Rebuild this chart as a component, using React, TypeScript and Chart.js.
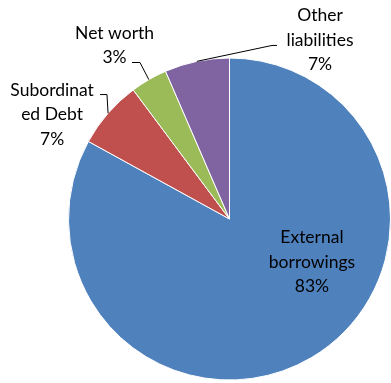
import React, { useEffect, useRef } from 'react';
import { Chart, registerables } from 'chart.js';

Chart.register(...registerables);

const categories = ['External borrowings', 'Subordinated Debt', 'Net worth', 'Other liabilities'];
const shares = [83.0, 6.8, 3.7, 6.5];
const percentLabels = ['83%', '7%', '3%', '7%'];
const nameLines = [['External', 'borrowings'], ['Subordinat', 'ed Debt'], ['Net worth'], ['Other', 'liabilities']];
const colors = ['#4F81BD', '#C0504D', '#9BBB59', '#8064A2'];

// label placement relative to pie centre, in units of radius: [centerX, firstBaselineY]
const labelPlacement: number[][] = [
  [0.512, 0.152],
  [-1.102, -0.767],
  [-0.714, -1.121],
  [0.562, -1.227],
];
// leader line points after the arc anchor (relative to centre, radius units)
const leaderPoints: number[][][] = [
  [],
  [[-0.761, -0.773], [-0.804, -0.773]],
  [[-0.556, -0.972], [-0.606, -0.972]],
  [[0.264, -1.078], [0.295, -1.078]],
];

const labelPlugin = {
  id: 'pieLabels',
  afterDatasetsDraw(chart: any) {
    const ctx = chart.ctx as CanvasRenderingContext2D;
    const meta = chart.getDatasetMeta(0);
    ctx.save();
    meta.data.forEach((arc: any, i: number) => {
      const { x, y, startAngle, endAngle, outerRadius } = arc.getProps(
        ['x', 'y', 'startAngle', 'endAngle', 'outerRadius'],
        true
      );
      const R = outerRadius;
      const mid = (startAngle + endAngle) / 2;
      const pts = leaderPoints[i];
      if (pts.length) {
        ctx.beginPath();
        ctx.strokeStyle = '#000';
        ctx.lineWidth = 1;
        ctx.moveTo(x + Math.cos(mid) * R, y + Math.sin(mid) * R);
        pts.forEach((p) => ctx.lineTo(x + p[0] * R, y + p[1] * R));
        ctx.stroke();
      }
      const lines = [...nameLines[i], percentLabels[i]];
      const lx = x + labelPlacement[i][0] * R;
      const ly = y + labelPlacement[i][1] * R;
      ctx.fillStyle = '#000';
      ctx.font = '17.5px Lato';
      ctx.textAlign = 'center';
      ctx.textBaseline = 'alphabetic';
      lines.forEach((t, k) => ctx.fillText(t, lx, ly + k * 24.5));
    });
    ctx.restore();
  },
};

export default function App() {
  const ref = useRef<HTMLCanvasElement | null>(null);
  useEffect(() => {
    if (!ref.current) return;
    const chart = new Chart(ref.current, {
      type: 'pie',
      data: {
        labels: categories,
        datasets: [
          {
            data: shares,
            backgroundColor: colors,
            borderColor: '#ffffff',
            borderWidth: 1,
          },
        ],
      },
      options: {
        animation: false,
        responsive: false,
        maintainAspectRatio: false,
        layout: { padding: { left: 68, top: 57, right: 0, bottom: 2 } },
        plugins: { legend: { display: false }, tooltip: { enabled: false } },
      },
      plugins: [labelPlugin],
    });
    return () => chart.destroy();
  }, []);
  return (
    <div style={{ position: 'fixed', left: 0, top: 0, width: 391, height: 383, background: '#fff' }}>
      <canvas ref={ref} width={391} height={383} style={{ width: 391, height: 383 }} />
    </div>
  );
}
